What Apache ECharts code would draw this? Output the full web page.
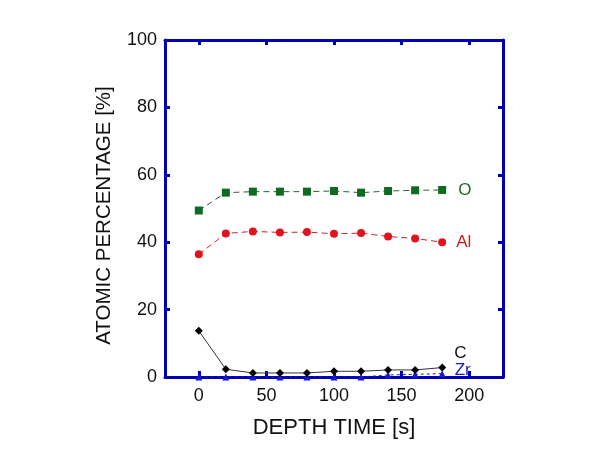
<!DOCTYPE html>
<html>
<head>
<meta charset="utf-8">
<script src="https://cdn.jsdelivr.net/npm/echarts@6/dist/echarts.min.js"></script>
<style>html,body{margin:0;padding:0;background:#fff}#c{width:602px;height:470px}</style>
</head>
<body>
<div id="c"></div>
<script>
var depthTime = [0, 20, 40, 60, 80, 100, 120, 140, 160, 180];
var oValues  = [49.4, 54.7, 55.0, 55.0, 55.0, 55.2, 54.7, 55.2, 55.4, 55.5];
var alValues = [36.4, 42.6, 43.2, 42.9, 43.0, 42.5, 42.7, 41.7, 41.1, 40.0];
var cValues  = [13.7, 2.3, 1.2, 1.2, 1.2, 1.7, 1.7, 2.1, 2.1, 2.8];
var zrValues = [0.0, 0.0, 0.0, 0.0, 0.0, 0.0, 0.0, 0.6, 0.8, 1.0];
var xTicks = [0, 50, 100, 150, 200];
var yTicks = [0, 20, 40, 60, 80, 100];
var seriesNames = ['O', 'Al', 'C', 'Zr'];

var FONT = "'Liberation Sans', Arial, sans-serif";
var AX = '#0000b4';

function pts(vals, name, labelCfg) {
  return vals.map(function (v, i) {
    var item = { value: [depthTime[i], v] };
    if (i === vals.length - 1) {
      item.label = Object.assign({ show: true, formatter: name, fontFamily: FONT, fontSize: 17 }, labelCfg);
    }
    return item;
  });
}

var chart = echarts.init(document.getElementById('c'), null, { renderer: 'canvas' });
var axisCommon = {
  axisLine: { show: true, onZero: false, lineStyle: { color: AX, width: 3 } },
  splitLine: { show: false }
};
chart.setOption({
  animation: false,
  backgroundColor: '#fff',
  grid: { left: 165, right: 99, top: 40, bottom: 93 },
  xAxis: [
    Object.assign({
      type: 'value', min: -25, max: 225, position: 'bottom',
      axisTick: { show: true, inside: true, length: 6, customValues: xTicks, lineStyle: { color: AX, width: 3 } },
      axisLabel: { show: true, customValues: xTicks, fontFamily: FONT, fontSize: 18, color: '#111', margin: 10 },
      name: 'DEPTH TIME [s]', nameLocation: 'middle', nameGap: 40,
      nameTextStyle: { fontFamily: FONT, fontSize: 22, color: '#111' }
    }, axisCommon),
    Object.assign({
      type: 'value', min: -25, max: 225, position: 'top',
      axisTick: { show: true, inside: true, length: 5, customValues: xTicks, lineStyle: { color: AX, width: 3 } },
      axisLabel: { show: false }
    }, axisCommon)
  ],
  yAxis: [
    Object.assign({
      type: 'value', min: 0, max: 100, interval: 20, position: 'left',
      axisTick: { show: true, inside: true, length: 5, customValues: yTicks, lineStyle: { color: AX, width: 3 } },
      axisLabel: { show: true, customValues: yTicks, fontFamily: FONT, fontSize: 18, color: '#111', margin: 8 },
      name: 'ATOMIC PERCENTAGE [%]', nameLocation: 'middle', nameGap: 50,
      nameTextStyle: { fontFamily: FONT, fontSize: 20.5, color: '#111', padding: [0, 14, 0, 0] }
    }, axisCommon),
    Object.assign({
      type: 'value', min: 0, max: 100, interval: 20, position: 'right',
      axisTick: { show: true, inside: true, length: 5, customValues: yTicks, lineStyle: { color: AX, width: 3 } },
      axisLabel: { show: false }
    }, axisCommon)
  ],
  series: [
    {
      name: seriesNames[0], type: 'line', z: 3,
      data: pts(oValues, seriesNames[0], { position: 'right', distance: 12, color: '#1d6b2a' }),
      symbol: 'rect', symbolSize: 8,
      itemStyle: { color: '#0e6b22' },
      lineStyle: { color: '#2f5f35', width: 1, type: [6, 4] }
    },
    {
      name: seriesNames[1], type: 'line', z: 3,
      data: pts(alValues, seriesNames[1], { position: 'right', distance: 10, color: '#d41a22' }),
      symbol: 'circle', symbolSize: 8,
      itemStyle: { color: '#e0141c' },
      lineStyle: { color: '#d02028', width: 1, type: [6, 4] }
    },
    {
      name: seriesNames[2], type: 'line', z: 3,
      data: pts(cValues, seriesNames[2], { position: 'right', distance: 8, offset: [0, -14], color: '#111' }),
      symbol: 'diamond', symbolSize: 8,
      itemStyle: { color: '#000' },
      lineStyle: { color: '#333', width: 1 }
    },
    {
      name: seriesNames[3], type: 'line', z: 1,
      data: pts(zrValues, seriesNames[3], { position: 'right', distance: 9, offset: [0, -3], color: '#1c1cc0' }),
      symbol: 'triangle', symbolSize: 7,
      itemStyle: { color: '#1818d0' },
      lineStyle: { color: '#2020c0', width: 1, type: [3, 3] }
    }
  ]
});
</script>
</body>
</html>
